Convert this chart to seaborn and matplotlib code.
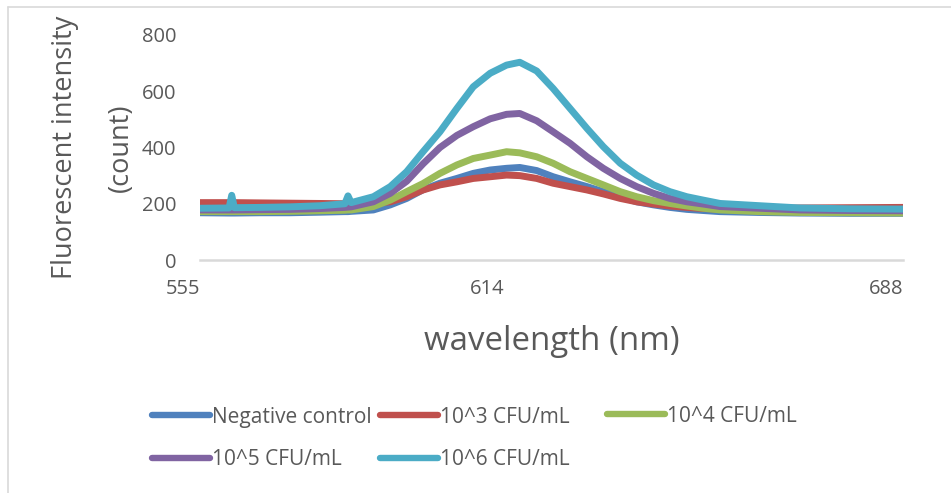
import matplotlib
matplotlib.use("Agg")
import matplotlib.pyplot as plt
import matplotlib.transforms as mtransforms
import pandas as pd
import seaborn as sns
from matplotlib.lines import Line2D

# ---------------- data ----------------
wavelength = [555, 560.5, 561, 561.5, 566.4, 572, 577.7, 582.4, 583, 583.6,
              587.8, 591, 594.1, 597.2, 600.4, 603.6, 606.7, 609.9, 613, 615.5,
              618.7, 621.8, 625, 628.2, 631.3, 634.5, 637.6, 640.8, 643.9, 647.1,
              650.2, 653.4, 660.9, 668.5, 678, 688]

negative_control = [168, 167, 167, 167, 168, 168, 170, 172, 172, 173,
                    178, 196, 219, 250, 273, 290, 308, 320, 326, 329,
                    318, 296, 278, 261, 243, 225, 207, 196, 187, 180,
                    176, 172, 169, 167, 166, 166]

cfu_1e3 = [204, 204, 204, 204, 203, 202, 201, 200, 200, 200,
           201, 207, 225, 249, 267, 278, 290, 296, 302, 300,
           290, 273, 261, 249, 235, 219, 207, 199, 192, 187,
           183, 181, 182, 185, 186, 187]

cfu_1e4 = [172, 172, 172, 172, 172, 173, 175, 177, 178, 178,
           190, 213, 243, 272, 308, 338, 361, 373, 385, 381,
           367, 344, 314, 290, 267, 243, 225, 211, 201, 192,
           184, 178, 172, 169, 168, 167]

cfu_1e5 = [178, 178, 178, 178, 179, 180, 183, 187, 188, 189,
           207, 237, 280, 342, 400, 443, 474, 502, 518, 521,
           495, 456, 415, 367, 326, 290, 261, 237, 219, 207,
           199, 190, 184, 178, 176, 175]

cfu_1e6 = [184, 185, 230, 186, 187, 189, 193, 200, 228, 204,
           225, 261, 314, 385, 456, 539, 616, 664, 693, 703,
           672, 610, 539, 468, 403, 344, 302, 267, 243, 225,
           213, 201, 193, 185, 182, 181]

series_names = ["Negative control", "10^3 CFU/mL", "10^4 CFU/mL",
                "10^5 CFU/mL", "10^6 CFU/mL"]
series_values = [negative_control, cfu_1e3, cfu_1e4, cfu_1e5, cfu_1e6]
colors = ["#4F81BD", "#C0504D", "#9BBB59", "#8064A2", "#4BACC6"]

x_ticks = [555, 614, 688]
y_ticks = [0, 200, 400, 600, 800]
x_title = "wavelength (nm)"
y_title = "Fluorescent intensity\n(count)"

# ---------------- long-form table ----------------
rows = []
for name, vals in zip(series_names, series_values):
    for w, v in zip(wavelength, vals):
        rows.append({"wavelength": w, "intensity": v, "series": name})
df = pd.DataFrame(rows)

# ---------------- style ----------------
sns.set_style("white")
plt.rcParams["font.family"] = ["Open Sans", "DejaVu Sans"]
text_color = "#595959"
axis_gray = "#D9D9D9"

fig = plt.figure(figsize=(9.51, 4.93), dpi=100)
ax = fig.add_axes([200 / 951, 1 - 260 / 493, 703 / 951, 225 / 493])

sns.lineplot(data=df, x="wavelength", y="intensity", hue="series",
             hue_order=series_names, palette=colors, linewidth=5,
             legend=False, ax=ax, sort=True, errorbar=None)
for ln in ax.get_lines():
    ln.set_solid_capstyle("round")
    ln.set_solid_joinstyle("round")

ax.set_xlim(555, 688)
ax.set_ylim(0, 800)
ax.set_xticks(x_ticks)
ax.set_xticklabels([str(t) for t in x_ticks], ha="right")
ax.set_yticks(y_ticks)
ax.set_yticklabels([str(t) for t in y_ticks])
ax.tick_params(axis="both", length=0, labelsize=14.5, labelcolor=text_color)
ax.tick_params(axis="x", pad=14)
ax.tick_params(axis="y", pad=17)
ax.grid(False)
for s in ["top", "right", "left"]:
    ax.spines[s].set_visible(False)
ax.spines["bottom"].set_color(axis_gray)
ax.spines["bottom"].set_linewidth(1.8)

# middle category label sits slightly left of its tick in the reference
mid_label = ax.get_xticklabels()[1]
mid_label.set_transform(mid_label.get_transform() +
                        mtransforms.ScaledTranslation(-7 / 100, 0, fig.dpi_scale_trans))

ax.set_xlabel(x_title, fontsize=23.8, color=text_color)
ax.xaxis.set_label_coords(0.5, -0.29)
ax.set_ylabel(y_title, fontsize=19.5, color=text_color, linespacing=2.3)
ax.yaxis.set_label_coords(-0.093, 0.5)

# ---------------- legend (Excel-like equal columns) ----------------
handles = [Line2D([], [], color=c, lw=4.6, solid_capstyle="round") for c in colors]
columns = [([0, 3], 152 / 951, 1 - 438.5 / 493),
           ([1, 4], 380 / 951, 1 - 438.5 / 493),
           ([2], 607 / 951, 1 - 416 / 493)]
for idx, x0, y0 in columns:
    leg = fig.legend([handles[i] for i in idx], [series_names[i] for i in idx],
                     loc="center left", bbox_to_anchor=(x0, y0),
                     frameon=False, fontsize=15, handlelength=2.8,
                     handletextpad=0.1, labelspacing=1.05, borderpad=0,
                     borderaxespad=0)
    for t in leg.get_texts():
        t.set_color(text_color)

# chart-area border (left and top edges visible in the reference)
fig.add_artist(Line2D([8 / 951, 8 / 951], [0, 1 - 7 / 493], color=axis_gray,
                      lw=1.2, transform=fig.transFigure))
fig.add_artist(Line2D([8 / 951, 1], [1 - 7 / 493, 1 - 7 / 493], color=axis_gray,
                      lw=1.2, transform=fig.transFigure))

fig.savefig("out.png", dpi=100)
